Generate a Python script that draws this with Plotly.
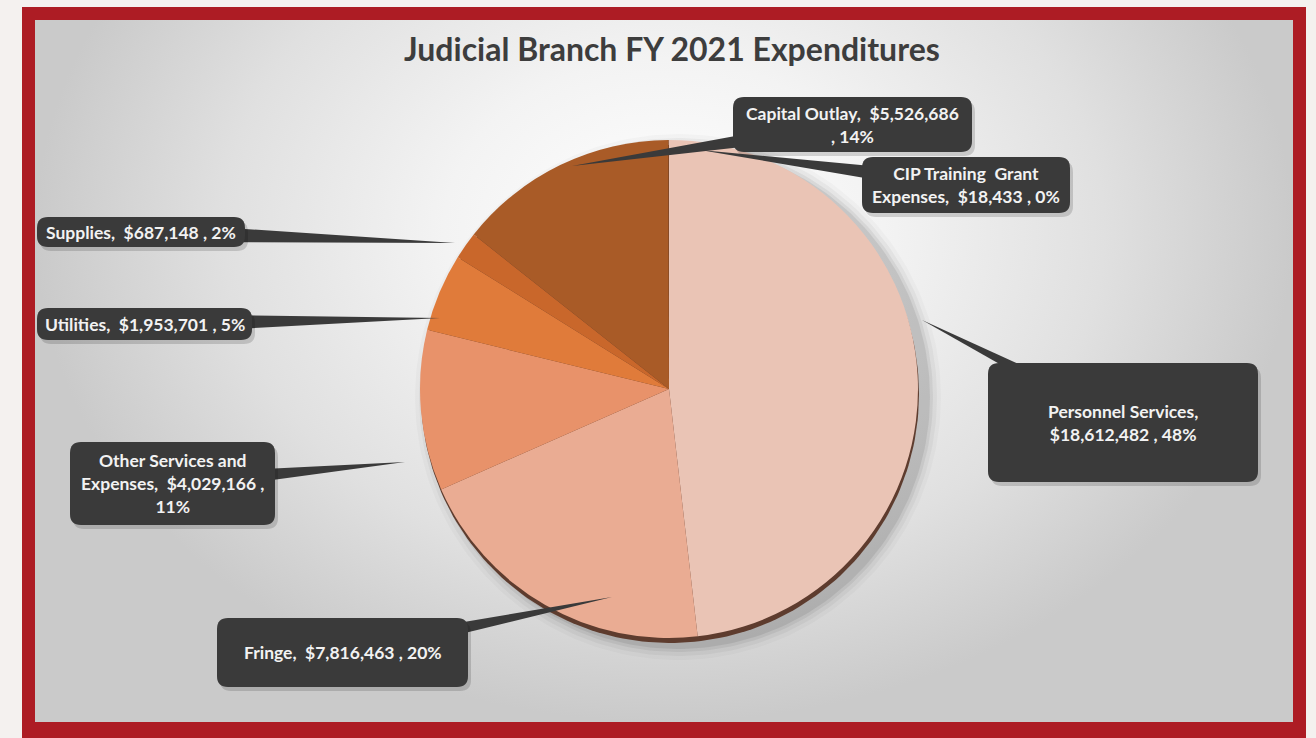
import numpy as np
import plotly.graph_objects as go

# ---- data ----
categories = ["Personnel Services", "Fringe", "Other Services and Expenses",
              "Utilities", "Supplies", "Capital Outlay", "CIP Training Grant Expenses"]
values = [18612482, 7816463, 4029166, 1953701, 687148, 5526686, 18433]
percent_labels = ["48%", "20%", "11%", "5%", "2%", "14%", "0%"]
colors = ["#eac4b5", "#eaac93", "#e8926a", "#e07b3a", "#c9672b", "#a95b27", "#8a4a22"]
label_texts = [
    "Personnel Services,<br>$18,612,482 , 48%",
    "Fringe,  $7,816,463 , 20%",
    "Other Services and<br>Expenses,  $4,029,166 ,<br>11%",
    "Utilities,  $1,953,701 , 5%",
    "Supplies,  $687,148 , 2%",
    "Capital Outlay,  $5,526,686<br>, 14%",
    "CIP Training  Grant<br>Expenses,  $18,433 , 0%",
]

W, H = 1316, 738
PX0, PY0, PX1, PY1 = 35, 20, 1293, 722   # inner panel
# label boxes (x0, y0, x1, y1) and leader tips in pixel space
boxes = [(988, 363, 1258, 482), (217, 618, 468, 687), (70, 442, 275, 525),
         (37, 308, 252, 340), (37, 217, 245, 247), (733, 97, 972, 152), (862, 157, 1070, 213)]
tips = [(922, 320), (612, 597), (405, 462), (440, 318), (455, 243), (572, 166), (700, 150)]

cx, cy, R = 669, 389, 249

fig = go.Figure()

# inner panel with radial gradient (polygon extends upward so the bright centre sits high)
fig.add_trace(go.Scatter(
    x=[PX0, PX1, PX1, PX0, PX0], y=[-260, -260, PY1, PY1, -260], mode="lines",
    line=dict(width=0), fill="toself",
    fillgradient=dict(type="radial",
                      colorscale=[[0, "#ffffff"], [0.35, "#f3f3f3"], [0.7, "#e0e0e0"], [1, "#cacaca"]]),
    hoverinfo="skip", showlegend=False))

# soft shadow (mostly right / bottom)
t = np.linspace(0, 2 * np.pi, 240)
for dr, a in [(14, 0.025), (10, 0.04), (6, 0.06), (3, 0.08)]:
    fig.add_trace(go.Scatter(
        x=cx + 9 + (R + dr) * np.cos(t), y=cy + 8 + (R + dr) * np.sin(t), mode="lines",
        line=dict(width=0), fill="toself", fillcolor=f"rgba(0,0,0,{a})",
        hoverinfo="skip", showlegend=False))
# brown rim
fig.add_trace(go.Scatter(
    x=cx + 1 + R * np.cos(t), y=cy + 5 + R * np.sin(t), mode="lines",
    line=dict(width=0), fill="toself", fillcolor="#5e3c2e",
    hoverinfo="skip", showlegend=False))

fig.add_trace(go.Pie(
    labels=categories, values=values, sort=False, direction="clockwise", rotation=0,
    marker=dict(colors=colors, line=dict(width=0)), textinfo="none",
    domain=dict(x=[(cx - R) / W, (cx + R) / W], y=[1 - (cy + R) / H, 1 - (cy - R) / H]),
    showlegend=False, hoverinfo="label+value+percent"))

shapes = [
    dict(type="rect", xref="paper", yref="paper", x0=22 / W, y0=-0.01, x1=1306 / W, y1=1 - 7 / H,
         fillcolor="#ad1c24", line=dict(width=0), layer="below"),
]


def rounded(x0, y0, x1, y1, r=11):
    return (f"M {x0+r},{y0} L {x1-r},{y0} Q {x1},{y0} {x1},{y0+r} L {x1},{y1-r} "
            f"Q {x1},{y1} {x1-r},{y1} L {x0+r},{y1} Q {x0},{y1} {x0},{y1-r} "
            f"L {x0},{y0+r} Q {x0},{y0} {x0+r},{y0} Z")


annotations = []
for (x0, y0, x1, y1), (tx, ty), txt in zip(boxes, tips, label_texts):
    bx, by = (x0 + x1) / 2, (y0 + y1) / 2
    dx, dy = tx - bx, ty - by
    L = np.hypot(dx, dy)
    nx, ny = -dy / L * 10, dx / L * 10
    shapes.append(dict(type="path", xref="x", yref="y", layer="above",
                       path=f"M {bx+nx},{by+ny} L {tx},{ty} L {bx-nx},{by-ny} Z",
                       fillcolor="#3a3a3a", line=dict(width=0)))
    shapes.append(dict(type="path", xref="x", yref="y", layer="above",
                       path=rounded(x0 + 3, y0 + 4, x1 + 3, y1 + 4),
                       fillcolor="rgba(0,0,0,0.15)", line=dict(width=0)))
    shapes.append(dict(type="path", xref="x", yref="y", layer="above",
                       path=rounded(x0, y0, x1, y1),
                       fillcolor="#3a3a3a", line=dict(width=0)))
    annotations.append(dict(x=bx, y=by, xref="x", yref="y", text=f"<b>{txt}</b>",
                            showarrow=False, align="center",
                            font=dict(family="Lato", size=17.5, color="#f2f2f2")))

annotations.append(dict(x=672, y=48, xref="x", yref="y",
                        text="<b>Judicial Branch FY 2021 Expenditures</b>", showarrow=False,
                        font=dict(family="Lato", size=32, color="#3d3d3d")))

fig.update_layout(
    width=W, height=H, margin=dict(l=0, r=0, t=0, b=0),
    paper_bgcolor="#f4f1ef", plot_bgcolor="rgba(0,0,0,0)",
    xaxis=dict(range=[PX0, PX1], visible=False, domain=[PX0 / W, PX1 / W], fixedrange=True),
    yaxis=dict(range=[PY1, PY0], visible=False, domain=[1 - PY1 / H, 1 - PY0 / H], fixedrange=True),
    shapes=shapes, annotations=annotations, showlegend=False,
)

fig.write_html("out.html", config={"displayModeBar": False},
               post_script="document.body.style.margin='0';document.body.style.overflow='hidden';")
